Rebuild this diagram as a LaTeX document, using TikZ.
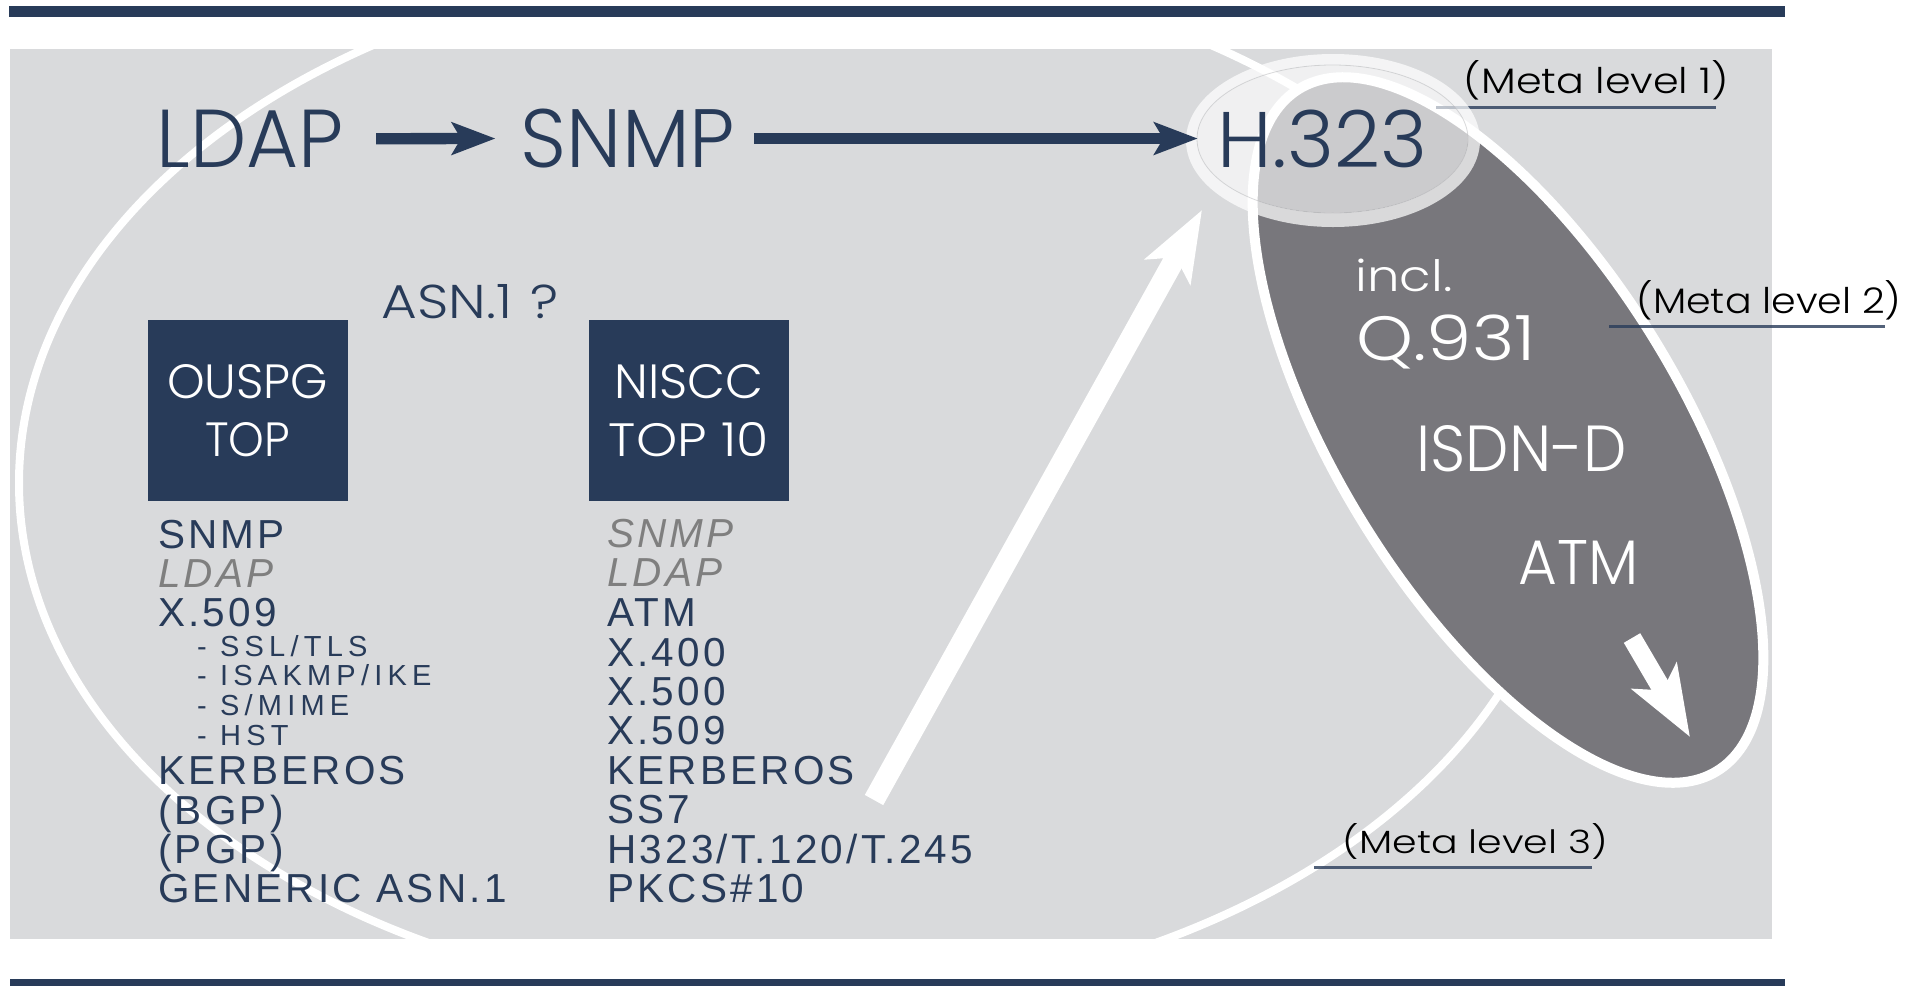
\documentclass[tikz,border=0pt]{standalone}
\usepackage{graphicx}
\usepackage{fontspec}
\usetikzlibrary{arrows.meta}
\newfontfamily\geofont{Poppins Light}
\newfontfamily\listfont[LetterSpace=8]{Liberation Sans}
\newfontfamily\subfont[LetterSpace=18]{Liberation Sans}
\definecolor{navy}{HTML}{283B59}
\definecolor{panel}{HTML}{D9DADC}
\definecolor{slate}{HTML}{78777C}
\definecolor{mute}{HTML}{7F7F7F}
\definecolor{ringgray}{HTML}{B4B5B8}
% scale a word to a given width and height (in pt)
\newcommand\fitword[3]{\resizebox{#1pt}{#2pt}{#3}}
\begin{document}
\begin{tikzpicture}[x=1pt, y=-1pt,
  word/.style={inner sep=0pt, anchor=base, font=\geofont},
  item/.style={inner sep=0pt, anchor=base west, text=navy, font=\listfont\fontsize{40.5}{40}\selectfont},
  faded/.style={inner sep=0pt, anchor=base west, text=mute, font=\listfont\itshape\fontsize{40.5}{40}\selectfont},
  subitem/.style={inner sep=0pt, anchor=base west, text=navy, font=\subfont\fontsize{29}{29}\selectfont},
  topbox/.style={fill=navy, text=white, inner sep=0pt, align=center, minimum width=200.5pt, minimum height=181pt, font=\geofont\fontsize{30}{58.5}\selectfont},
  flow/.style={draw=navy, line width=11.3pt, -{Stealth[length=43.4pt, width=32pt, inset=9pt]}},
  rise/.style={draw=white, line width=21pt, -{Stealth[length=70pt, width=51pt, inset=16pt]}},
  metaline/.style={draw=navy, line width=3pt, opacity=0.8},
]
\useasboundingbox (0,0) rectangle (1908,986);

% frame bars and panel
\fill[navy] (8.5,6) rectangle (1785,16.7);
\fill[navy] (10,979) rectangle (1785,986);
\fill[panel] (10,49) rectangle (1772,938.5);

% outer ellipse (meta level 3)
\begin{scope}
  \clip (10,49) rectangle (1772,938.5);
  \draw[white, line width=8pt] (792,483) ellipse [x radius=773, y radius=521];
\end{scope}

% tilted ellipse (meta level 2)
\begin{scope}[shift={(1508,430)}, rotate=-58.5]
  \draw[fill=slate, draw=white, line width=10pt] (0,0) ellipse [x radius=400, y radius=172];
\end{scope}

% underline of meta level 1 sits below the halo
\draw[metaline] (1436,107) -- (1716,107);

% halo around H.323 (meta level 1)
\fill[white, opacity=0.72, even odd rule]
  (1333,140.5) ellipse [x radius=147, y radius=86.5]
  (1332.5,139) ellipse [x radius=135.5, y radius=74];
\fill[white, opacity=0.62] (1332.5,139) ellipse [x radius=135.5, y radius=74];
\draw[ringgray, line width=0.8pt, opacity=0.5] (1332.5,139) ellipse [x radius=135.5, y radius=74];

% top row
\node[word, text=navy] (ldap) at (250,167.4) {\fitword{187}{57.4}{LDAP}};
\node[word, text=navy] (snmp) at (628,167.5) {\fitword{214}{58.5}{SNMP}};
\node[word, text=navy] (h323) at (1322.5,167.7) {\fitword{209}{57.5}{H.323}};
\draw[flow] ([xshift=32.5pt]ldap.east) -- ([xshift=-25.3pt]snmp.west);
\draw[flow] ([xshift=19pt]snmp.east) -- ([xshift=-20pt]snmp.east -| h323.west);

\node[word, text=navy] (asn) at (470,318) {\fitword{177}{34}{ASN.1\,\,?}};

% the two test suites
\node[topbox] (ouspg) at (247.75,410.5) {\fitword{161}{34}{OUSPG}\\\fitword{85}{34}{TOP}};
\node[topbox] (niscc) at (689,410.5) {\fitword{149}{34}{NISCC}\\\fitword{160}{34}{TOP 10}};

% OUSPG list
\node[item]    (o1) at (158,548)   {SNMP};
\node[faded]   (o2) at (158,587.4) {LDAP};
\node[item]    (o3) at (158,626.8) {X.509};
\node[subitem] (s1) at (197,656)   {- SSL/TLS};
\node[subitem] (s2) at (197,685)   {- ISAKMP/IKE};
\node[subitem] (s3) at (197,715)   {- S/MIME};
\node[subitem] (s4) at (197,745)   {- HST};
\node[item]    (o4) at (158,784.5) {KERBEROS};
\node[item]    (o5) at (158,824)   {(BGP)};
\node[item]    (o6) at (158,863)   {(PGP)};
\node[item]    (o7) at (158,902.8) {GENERIC ASN.1};

% NISCC list
\node[faded] (n1)  at (607,547.5) {SNMP};
\node[faded] (n2)  at (607,586.5) {LDAP};
\node[item]  (n3)  at (607,626.5) {ATM};
\node[item]  (n4)  at (607,666)   {X.400};
\node[item]  (n5)  at (607,705)   {X.500};
\node[item]  (n6)  at (607,744.5) {X.509};
\node[item]  (n7)  at (607,784)   {KERBEROS};
\node[item]  (n8)  at (607,823.5) {SS7};
\node[item]  (n9)  at (607,863)   {H323/T.120/T.245};
\node[item]  (n10) at (607,902.5) {PKCS\#10};

% contents of the tilted ellipse
\node[word, text=white] (incl) at (1404,291.5)  {\fitword{97}{32.5}{incl.}};
\node[word, text=white] (q931) at (1446,360)    {\fitword{179}{45.6}{Q.931}};
\node[word, text=white] (isdn) at (1521.5,471)  {\fitword{210}{46}{ISDN-D}};
\node[word, text=white] (atmw) at (1578.5,584)  {\fitword{120}{44}{ATM}};

% white arrows
\coordinate (risetail) at (874,800);
\coordinate (risetip)  at (1202,210);
\draw[rise] (risetail) -- (risetip);
\coordinate (droptail) at (1632,638);
\coordinate (droptip)  at (1690,737);
\draw[rise, line width=19pt] (droptail) -- (droptip);

% level labels
\node[word, text=black] (meta1) at (1596.5,93) {\fitword{265}{33}{(Meta level 1)}};
\node[word, text=black] (meta2) at (1769,313)  {\fitword{265}{33}{(Meta level 2)}};
\node[word, text=black] (meta3) at (1475.5,853) {\fitword{265}{30}{(Meta level 3)}};
\draw[metaline] (1609,326) -- (1885,326);
\draw[metaline] (1314,867) -- (1592,867);
\end{tikzpicture}
\end{document}
